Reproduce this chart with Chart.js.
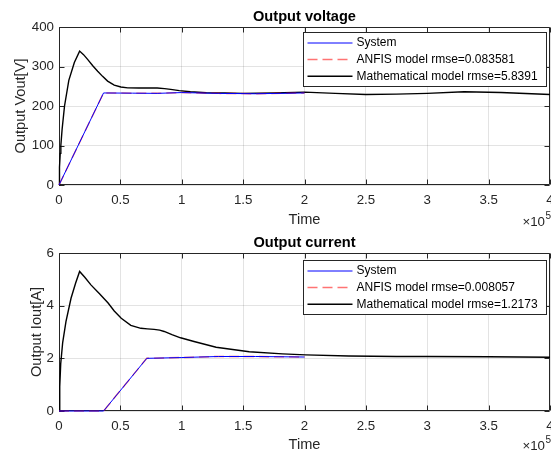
<!DOCTYPE html>
<html lang="en">
<head>
<meta charset="UTF-8" />
<title>Output voltage / Output current</title>
<style>
  body { margin: 0; background: #fff; overflow: hidden; }
  canvas { position: absolute; left: 0; }
  #voltChart { top: 0; }
  #currChart { top: 226px; }
</style>
</head>
<body>
<canvas id="voltChart" width="551" height="232"></canvas>
<canvas id="currChart" width="551" height="226"></canvas>
<script src="https://cdn.jsdelivr.net/npm/chart.js"></script>
<script>
// time is plotted in units of 1e5
const xTickLabels = ['0', '0.5', '1', '1.5', '2', '2.5', '3', '3.5', '4'];
const voltTicks = [0, 100, 200, 300, 400];
const currTicks = [0, 2, 4, 6];

// Output voltage
const sysVoltT = [0, 0.363, 0.6, 0.8, 1.0, 1.3, 1.6, 2.0];
const sysVolt  = [0, 233, 232.5, 232, 234, 232, 231, 233];
const anfisVoltT = [0, 0.363, 0.6, 0.8, 1.0, 1.3, 1.6, 2.0];
const anfisVolt  = [0, 233, 232.5, 232, 234, 232, 231, 233];
const mathVoltT = [0, 0.004, 0.01, 0.015, 0.025, 0.045, 0.08, 0.125, 0.168, 0.2, 0.233, 0.275,
                   0.315, 0.355, 0.396, 0.45, 0.504, 0.56, 0.65, 0.75, 0.8, 0.86, 0.91, 0.98,
                   1.07, 1.2, 1.35, 1.5, 1.75, 2.0, 2.25, 2.5, 2.75, 3.0, 3.3, 3.6, 4.0];
const mathVolt  = [0, 45, 80, 100, 140, 200, 265, 310, 339, 330, 318, 302,
                   288, 275, 263, 253, 248, 246, 245.5, 246, 245.5, 244, 242, 239,
                   236, 233.5, 233, 232, 233, 235, 232, 229, 230, 232, 236, 234, 229];

// Output current
const sysCurrT = [0, 0.363, 0.715, 1.0, 1.3, 1.6, 2.0];
const sysCurr  = [0, 0, 2.0, 2.03, 2.07, 2.07, 2.05];
const anfisCurrT = [0, 0.363, 0.715, 1.0, 1.3, 1.6, 2.0];
const anfisCurr  = [0, 0, 2.0, 2.03, 2.07, 2.07, 2.05];
const mathCurrT = [0, 0.004, 0.008, 0.014, 0.03, 0.057, 0.098, 0.135, 0.168, 0.21, 0.26, 0.33,
                   0.40, 0.45, 0.507, 0.585, 0.667, 0.72, 0.775, 0.82, 0.857, 0.92, 0.99, 1.1,
                   1.28, 1.55, 1.82, 2.01, 2.36, 2.75, 3.0, 3.5, 4.0];
const mathCurr  = [0, 0.5, 0.92, 1.8, 2.6, 3.4, 4.28, 4.85, 5.30, 5.08, 4.79, 4.45,
                   4.1, 3.8, 3.52, 3.25, 3.14, 3.12, 3.1, 3.07, 3.02, 2.9, 2.78, 2.64,
                   2.42, 2.25, 2.17, 2.13, 2.09, 2.07, 2.07, 2.06, 2.04];

const FONT = "'Liberation Sans', Arial, sans-serif";
const AX = '#262626';

const toPoints = (ts, vs) => ts.map((t, i) => ({ x: t, y: vs[i] }));

// MATLAB-like box, inward ticks, title, exponent and boxed legend
const matlabAxes = {
  id: 'matlabAxes',
  beforeDatasetsDraw(chart) {
    const { ctx, chartArea: a, scales: { x, y } } = chart;
    const L = a.left + 0.5, R = a.right - 0.5, T = a.top + 0.5, B = a.bottom - 0.5;
    ctx.save();
    ctx.strokeStyle = AX;
    ctx.lineWidth = 1;
    ctx.beginPath();
    ctx.rect(L, T, R - L, B - T);
    x.ticks.forEach(t => {
      const px = Math.round(x.getPixelForValue(t.value)) + 0.5;
      ctx.moveTo(px, B); ctx.lineTo(px, B - 5);
      ctx.moveTo(px, T); ctx.lineTo(px, T + 5);
    });
    y.ticks.forEach(t => {
      const py = Math.round(y.getPixelForValue(t.value)) + 0.5;
      ctx.moveTo(L, py); ctx.lineTo(L + 5, py);
      ctx.moveTo(R, py); ctx.lineTo(R - 5, py);
    });
    ctx.stroke();
    ctx.restore();
  },
  afterDraw(chart, args, opts) {
    const { ctx, chartArea: a } = chart;
    ctx.save();
    // title
    ctx.fillStyle = '#000';
    ctx.font = 'bold 14.6px ' + FONT;
    ctx.textAlign = 'center';
    ctx.textBaseline = 'middle';
    ctx.fillText(opts.title, (a.left + a.right) / 2, 17);
    // x exponent
    ctx.fillStyle = AX;
    ctx.font = '13.3px ' + FONT;
    ctx.textAlign = 'right';
    ctx.fillText('\u00d710', 545, opts.expY);
    ctx.font = '10px ' + FONT;
    ctx.textAlign = 'left';
    ctx.fillText('5', 545.5, opts.expY - 6);
    // legend
    const bw = 243, bh = 54;
    const bx = Math.round(a.right - 4 - bw) + 0.5;
    const by = Math.round(a.top + opts.legendDy) + 0.5;
    ctx.fillStyle = '#fff';
    ctx.fillRect(bx, by, bw, bh);
    ctx.strokeStyle = AX;
    ctx.lineWidth = 1;
    ctx.strokeRect(bx, by, bw, bh);
    ctx.font = '12px ' + FONT;
    ctx.textBaseline = 'middle';
    chart.data.datasets.forEach((ds, i) => {
      const ry = by + 10.5 + i * 16.6;
      ctx.strokeStyle = ds.borderColor;
      ctx.lineWidth = ds.borderWidth;
      ctx.setLineDash(ds.borderDash || []);
      ctx.beginPath();
      ctx.moveTo(bx + 4, ry);
      ctx.lineTo(bx + 49, ry);
      ctx.stroke();
      ctx.setLineDash([]);
      ctx.fillStyle = '#000';
      ctx.fillText(ds.label, bx + 53, ry);
    });
    ctx.restore();
  }
};

function buildChart(id, H, sets, yTicks, yLabel, yTitlePad, xTitlePad, plugOpts) {
  const ctx = document.getElementById(id).getContext('2d');
  return new Chart(ctx, {
    type: 'line',
    data: {
      datasets: [
        { label: 'System', data: sets[0], borderColor: 'rgb(0,0,255)', borderWidth: 1, clip: 3 },
        { label: sets[3], data: sets[1], borderColor: 'rgba(255,0,0,0.55)', borderWidth: 1.5,
          borderDash: [10, 5], clip: 3 },
        { label: sets[4], data: sets[2], borderColor: '#000', borderWidth: 1.4, clip: 3 }
      ]
    },
    options: {
      responsive: false,
      animation: false,
      events: [],
      elements: { point: { radius: 0 }, line: { tension: 0 } },
      layout: { padding: { top: 27, right: 1, left: 0, bottom: 0 } },
      plugins: {
        legend: { display: false },
        tooltip: { enabled: false },
        matlabAxes: plugOpts
      },
      scales: {
        x: {
          type: 'linear',
          min: 0,
          max: 4,
          ticks: {
            stepSize: 0.5,
            padding: 7,
            color: AX,
            font: { family: FONT, size: 13.3 },
            maxRotation: 0,
            autoSkip: false,
            callback: (v, i) => xTickLabels[i]
          },
          grid: { color: 'rgba(38,38,38,0.13)', drawTicks: false },
          border: { display: false },
          title: {
            display: true,
            text: 'Time',
            color: AX,
            font: { family: FONT, size: 14.6, lineHeight: 1 },
            padding: { top: 0, bottom: xTitlePad }
          },
          afterFit: s => { s.height = H - 185; s.paddingLeft = 0; s.paddingRight = 0; }
        },
        y: {
          min: yTicks[0],
          max: yTicks[yTicks.length - 1],
          ticks: {
            stepSize: yTicks[1] - yTicks[0],
            padding: 5,
            color: AX,
            font: { family: FONT, size: 13.3 },
            callback: v => String(v)
          },
          grid: { color: 'rgba(38,38,38,0.13)', drawTicks: false },
          border: { display: false },
          title: {
            display: true,
            text: yLabel,
            color: AX,
            font: { family: FONT, size: 14.6 },
            padding: { top: yTitlePad, bottom: 0 }
          },
          afterFit: s => { s.width = 59; s.paddingTop = 0; s.paddingBottom = 0; }
        }
      }
    },
    plugins: [matlabAxes]
  });
}

buildChart('voltChart', 232,
  [toPoints(sysVoltT, sysVolt), toPoints(anfisVoltT, anfisVolt), toPoints(mathVoltT, mathVolt),
   'ANFIS model rmse=0.083581', 'Mathematical model rmse=5.8391'],
  voltTicks, 'Output Vout[V]', 12, 4.7,
  { title: 'Output voltage', expY: 222, legendDy: 5 });

buildChart('currChart', 226,
  [toPoints(sysCurrT, sysCurr), toPoints(anfisCurrT, anfisCurr), toPoints(mathCurrT, mathCurr),
   'ANFIS model rmse=0.008057', 'Mathematical model rmse=1.2173'],
  currTicks, 'Output Iout[A]', 28, 0,
  { title: 'Output current', expY: 220.5, legendDy: 6.5 });
</script>
</body>
</html>
